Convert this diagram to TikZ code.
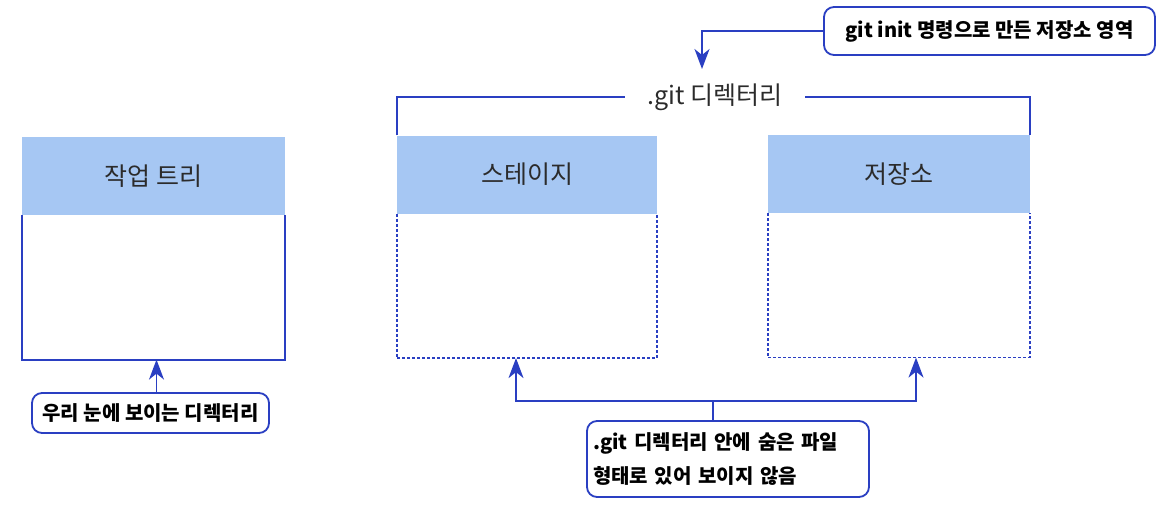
\documentclass[tikz,border=0pt]{standalone}
\usepackage{fontspec}
\setmainfont{Noto Sans CJK KR}
\usetikzlibrary{arrows.meta,positioning,calc}
\definecolor{gblue}{HTML}{2A3FC2}
\definecolor{gfill}{HTML}{A6C7F3}
\definecolor{gtext}{HTML}{2B2B2B}
\tikzset{
  head/.style={fill=gfill,text=gtext,minimum height=78pt,inner sep=0pt,font=\fontsize{25}{30}\selectfont},
  body/.style={minimum height=144pt,inner sep=0pt,anchor=north},
  boxline/.style={draw=gblue,line width=1.8pt},
  dboxline/.style={boxline,line width=1.5pt,dash pattern=on 3pt off 2pt},
  note/.style={draw=gblue,rounded corners=10pt,line width=1.8pt,fill=white,inner sep=6pt,font=\bfseries\fontsize{20}{34}\selectfont},
  line/.style={draw=gblue,line width=1.8pt},
  arr/.style={line,-{Stealth[length=20pt,width=15pt,inset=6pt]}},
}
\begin{document}
\begin{tikzpicture}[x=1pt,y=-1pt]
  \useasboundingbox (0,0) rectangle (1163,506);
  % three areas
  \node[head,minimum width=263pt] (wtHead) at (153.5,176) {작업 트리};
  \node[body,minimum width=263pt] (wtBody) at (wtHead.south) {};
  \draw[boxline] (wtBody.north west) -- (wtBody.south west) -- (wtBody.south east) -- (wtBody.north east);
  \node[head,minimum width=260pt] (stHead) at (527,174.5) {스테이지};
  \node[body,minimum width=260pt] (stBody) at (stHead.south) {};
  \draw[dboxline] (stBody.north west) -- (stBody.south west) -- (stBody.south east) -- (stBody.north east);
  \node[head,minimum width=262pt] (rpHead) at (899,174) {저장소};
  \node[body,minimum width=262pt] (rpBody) at (rpHead.south) {};
  \draw[dboxline] (rpBody.north west) -- (rpBody.south west) -- (rpBody.south east) -- (rpBody.north east);
  % .git bracket
  \node[text=gtext,font=\fontsize{25}{30}\selectfont,inner xsep=22pt] (gitLbl) at (715,97) {.git 디렉터리};
  \draw[line] (stHead.north west) |- (gitLbl.west);
  \draw[line] (rpHead.north east) |- (gitLbl.east);
  % notes
  \node[note,minimum width=331pt,minimum height=48pt] (initNote) at (989.5,31) {git init 명령으로 만든 저장소 영역};
  \coordinate (initTip) at (702,69);
  \draw[arr] (initNote.west) -| (initTip);
  \node[note,minimum width=237pt,minimum height=40pt] (wtNote) at (150.5,413) {우리 눈에 보이는 디렉터리};
  \draw[arr] ([xshift=6pt]wtNote.north) -- ([xshift=6pt]wtNote.north |- wtBody.south);
  \node[note,minimum width=282pt,minimum height=76pt,align=left,text width=270pt] (hidNote) at (728,459) {.git 디렉터리 안에 숨은 파일\\형태로 있어 보이지 않음};
  \coordinate (hub) at (713,401);
  \draw[line] (hidNote.north -| hub) -- (hub);
  \draw[arr] (hub) -| ([xshift=-11pt]stBody.south);
  \draw[arr] (hub) -| ([xshift=17pt]rpBody.south);
\end{tikzpicture}
\end{document}
